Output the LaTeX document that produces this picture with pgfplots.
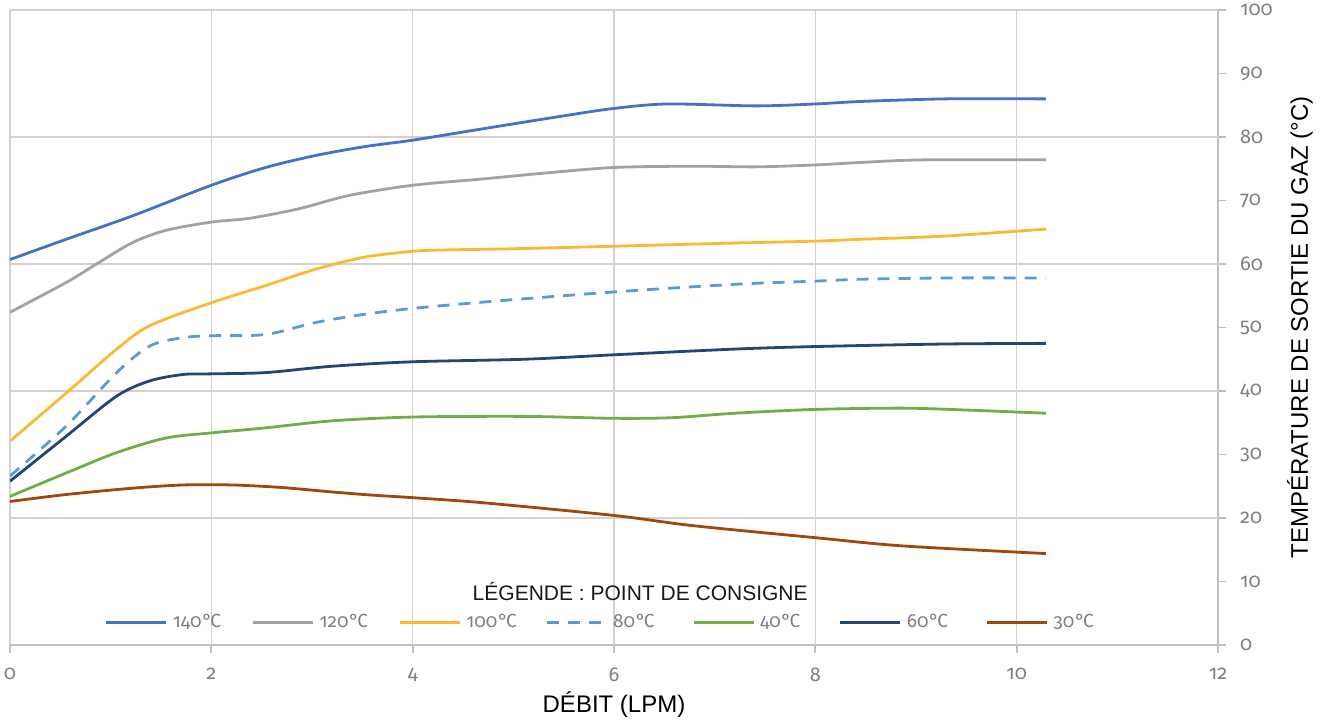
\documentclass[border=0pt]{standalone}
\usepackage{fontspec}
\setmainfont{Liberation Sans}
\newfontfamily\tickfont[Numbers=OldStyle]{Fira Sans}
\usepackage{pgfplots}
\pgfplotsset{compat=1.18}

\definecolor{c140}{HTML}{4472C4}
\definecolor{c120}{HTML}{A6A0A0}
\definecolor{c100}{HTML}{F9B933}
\definecolor{c80}{HTML}{5B9BD5}
\definecolor{c40}{HTML}{70AD47}
\definecolor{c60}{HTML}{264478}
\definecolor{c30}{HTML}{9E480E}
\definecolor{gridc}{HTML}{D8D0D0}
\definecolor{axisc}{HTML}{BFBFBF}
\definecolor{tickc}{HTML}{7F7F7F}

% legend label: fixed width, degree sign pulled onto the C
\newcommand{\lab}[1]{\makebox[25pt][l]{#1\kern0.3pt°\kern-0.9ptC}}

\begin{document}
\begin{tikzpicture}
\begin{axis}[
    width=604pt, height=317.5pt, scale only axis,
    xmin=0, xmax=12, ymin=0, ymax=100,
    axis x line*=bottom, axis y line*=right,
    xtick={0,2,...,12}, ytick={0,10,...,100},
    tick align=outside, major tick length=4pt,
    xmajorgrids=true,
    extra y ticks={20,40,60,80,100}, extra y tick labels={},
    extra y tick style={grid=major, major tick length=0pt},
    major grid style={draw=gridc, line width=0.8pt},
    axis line style={draw=axisc, line width=0.9pt},
    tick style={draw=axisc, line width=0.9pt},
    /pgf/number format/assume math mode=true,
    ticklabel style={font=\tickfont\fontsize{10}{11}\selectfont, text=tickc},
    xticklabel style={yshift=-4pt},
    yticklabel style={xshift=3.5pt},
    xlabel={DÉBIT (LPM)},
    ylabel={TEMPÉRATURE DE SORTIE DU GAZ (°C)},
    label style={font=\fontsize{12}{14}\selectfont, text=black},
    xlabel style={at={([yshift=-30pt]rel axis cs:0.5,0)}, anchor=center},
    ylabel style={at={([xshift=41pt]rel axis cs:1,0.5)}, anchor=center},
    legend columns=-1,
    legend style={
        at={(axis cs:0.944,3.6)}, anchor=west,
        draw=none, fill=none, inner sep=0pt, outer sep=0pt,
        font=\tickfont\fontsize{9.5}{10}\selectfont, text=tickc,
        /tikz/every odd column/.append style={column sep=2.5pt},
        /tikz/every even column/.append style={column sep=14.5pt},
        nodes={inner sep=0pt},
    },
    legend image code/.code={\draw[#1] (0pt,0pt) -- (30pt,0pt);},
    every axis plot/.append style={line width=1.4pt, smooth},
]
\addplot[c140] coordinates {
    (0,60.7) (0.56,63.9) (1.22,67.6) (2,72.4) (2.54,75.2) (3.04,77.1)
    (3.53,78.5) (4,79.5) (4.7,81.3) (5.53,83.4) (6,84.5) (6.53,85.2)
    (7.41,84.9) (8,85.2) (8.46,85.6) (9.29,86.0) (10.29,86.0)
};
\addlegendentry{\lab{140}}
\addplot[c120] coordinates {
    (0,52.4) (0.56,57.1) (0.89,60.3) (1.22,63.4) (1.55,65.3) (2,66.6)
    (2.38,67.2) (2.87,68.7) (3.37,70.8) (4,72.4) (4.7,73.4) (5.3,74.3)
    (6,75.2) (6.78,75.4) (7.41,75.3) (8,75.6) (8.46,76.0) (9.08,76.4)
    (10.29,76.4)
};
\addlegendentry{\lab{120}}
\addplot[c100] coordinates {
    (0,32.1) (0.56,39.7) (1.06,46.6) (1.39,50.3) (2,53.9) (2.54,56.6)
    (3.04,59.2) (3.53,61.1) (4,62.0) (4.28,62.2) (5,62.4) (6,62.8)
    (7.2,63.3) (8,63.6) (8.46,63.9) (9.29,64.4) (10.29,65.5)
};
\addlegendentry{\lab{100}}
\addplot[c80, dash pattern=on 6pt off 4.5pt] coordinates {
    (0,26.6) (0.56,34.5) (1.06,42.9) (1.39,47.1) (1.72,48.4) (2,48.7)
    (2.54,48.9) (3.04,50.8) (3.53,52.1) (4,53.0) (4.7,54.0) (6,55.6)
    (7.2,56.8) (8,57.3) (8.46,57.6) (9.29,57.8) (10.29,57.8)
};
\addlegendentry{\lab{80}}
\addplot[c40] coordinates {
    (0,23.4) (0.56,27.1) (1.06,30.3) (1.55,32.6) (2,33.4) (2.54,34.2)
    (3.2,35.3) (4,35.9) (5.11,36.0) (6,35.7) (6.58,35.8) (7.2,36.5)
    (8,37.1) (8.87,37.3) (9.5,37.0) (10.29,36.5)
};
\addlegendentry{\lab{40}}
\addplot[c60] coordinates {
    (0,25.8) (0.56,32.9) (1.06,39.2) (1.39,41.6) (1.72,42.6) (2,42.7)
    (2.54,42.9) (3.2,43.9) (4,44.6) (5.11,45.0) (6,45.7) (7.2,46.6)
    (8,47.0) (9.29,47.4) (10.29,47.5)
};
\addlegendentry{\lab{60}}
\addplot[c30] coordinates {
    (0,22.6) (0.56,23.7) (1.22,24.7) (1.72,25.2) (2.21,25.2) (2.7,24.8)
    (3.2,24.1) (3.6,23.6) (4,23.2) (4.7,22.4) (6,20.4) (6.78,18.8) (8,16.9)
    (8.87,15.6) (10.29,14.4)
};
\addlegendentry{\lab{30}}
\node[font=\fontsize{10.5}{12}\selectfont, text=black!90] at (axis cs:6.26,8.35) {LÉGENDE : POINT DE CONSIGNE};
\coordinate (bl) at (rel axis cs:0,0);
\coordinate (tr) at (rel axis cs:1,1);
\end{axis}
\pgfresetboundingbox
\path ([shift={(-5pt,-38.5pt)}]bl) rectangle ([shift={(54.5pt,5pt)}]tr);
\end{tikzpicture}
\end{document}
